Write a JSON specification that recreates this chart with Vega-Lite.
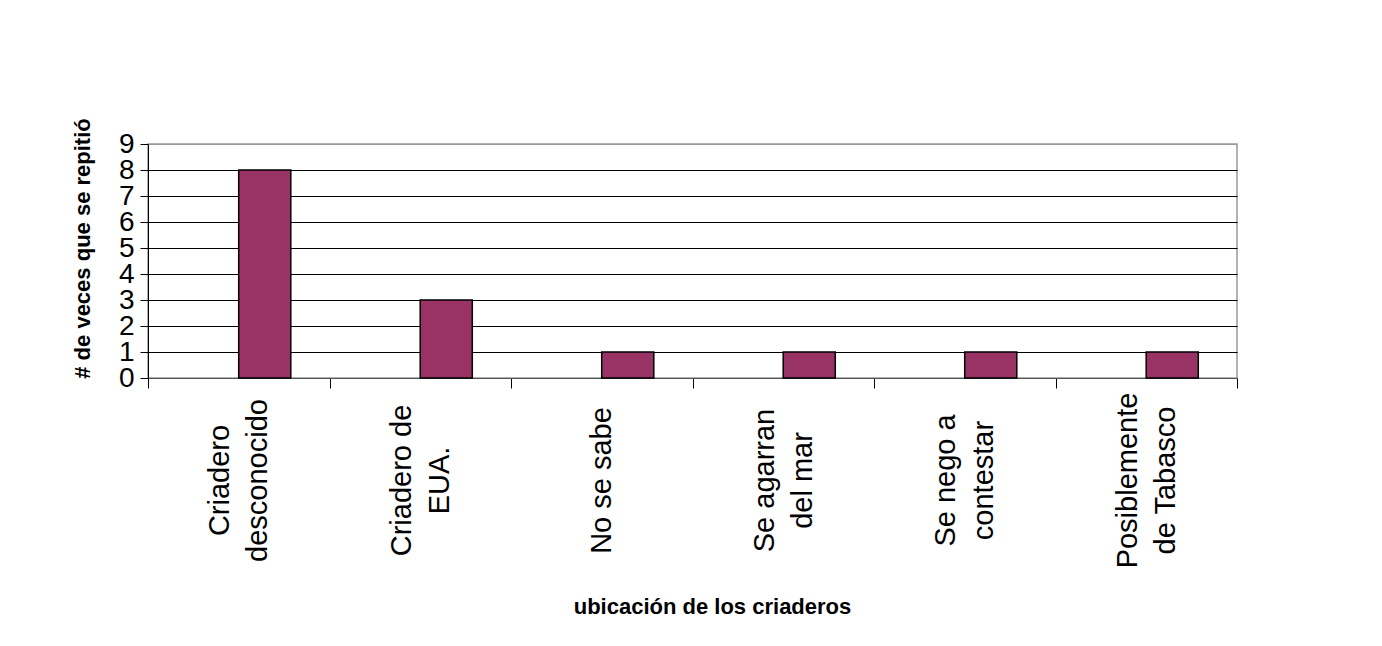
{
  "$schema": "https://vega.github.io/schema/vega-lite/v6.json",
  "autosize": "none",
  "width": 1089,
  "height": 234,
  "padding": {"left": 148, "top": 144, "right": 145, "bottom": 268},
  "background": "white",
  "data": {
    "values": [
      {"ubicacion": "Criadero|desconocido", "veces": 8},
      {"ubicacion": "Criadero de|EUA.", "veces": 3},
      {"ubicacion": "No se sabe", "veces": 1},
      {"ubicacion": "Se agarran|del mar", "veces": 1},
      {"ubicacion": "Se nego a|contestar", "veces": 1},
      {"ubicacion": "Posiblemente|de Tabasco", "veces": 1}
    ]
  },
  "mark": {
    "type": "bar",
    "color": "#993366",
    "stroke": "black",
    "strokeWidth": 1.5,
    "width": {"band": 0.287},
    "xOffset": 26
  },
  "encoding": {
    "x": {
      "field": "ubicacion",
      "type": "nominal",
      "sort": null,
      "scale": {"paddingInner": 0, "paddingOuter": 0},
      "axis": {
        "title": "ubicación de los criaderos",
        "titleFont": "Liberation Sans",
        "titleFontSize": 22,
        "titleFontWeight": "bold",
        "titleColor": "black",
        "titleX": 564,
        "titlePadding": 29,
        "labelExpr": "split(datum.label, '|')",
        "labelAngle": -90,
        "labelAlign": "center",
        "labelBaseline": "middle",
        "labelFont": "Liberation Sans",
        "labelFontSize": 29,
        "labelLineHeight": 38,
        "labelColor": "black",
        "labelPadding": 92,
        "labelOffset": {"condition": {"test": "indexof(datum.label, '|') >= 0", "value": -19}, "value": 0},
        "labelLimit": 0,
        "tickBand": "extent",
        "tickSize": 10,
        "tickColor": "black",
        "domainColor": "#555555",
        "grid": false
      }
    },
    "y": {
      "field": "veces",
      "type": "quantitative",
      "scale": {"domain": [0, 9], "nice": false},
      "axis": {
        "title": "# de veces que se repitió",
        "titleFont": "Liberation Sans",
        "titleFontSize": 22,
        "titleFontWeight": "bold",
        "titleColor": "black",
        "titleY": 104,
        "titlePadding": 24,
        "values": [0, 1, 2, 3, 4, 5, 6, 7, 8, 9],
        "labelFont": "Liberation Sans",
        "labelFontSize": 28,
        "labelColor": "black",
        "labelPadding": 6,
        "labelOverlap": false,
        "labelFlush": false,
        "tickSize": 8,
        "tickColor": "black",
        "domainColor": "black",
        "grid": true,
        "gridColor": {"condition": {"test": "datum.value === 9", "value": "#999999"}, "value": "black"},
        "gridWidth": 1
      }
    }
  },
  "config": {
    "view": {"stroke": "#999999", "strokeWidth": 1.5}
  }
}
